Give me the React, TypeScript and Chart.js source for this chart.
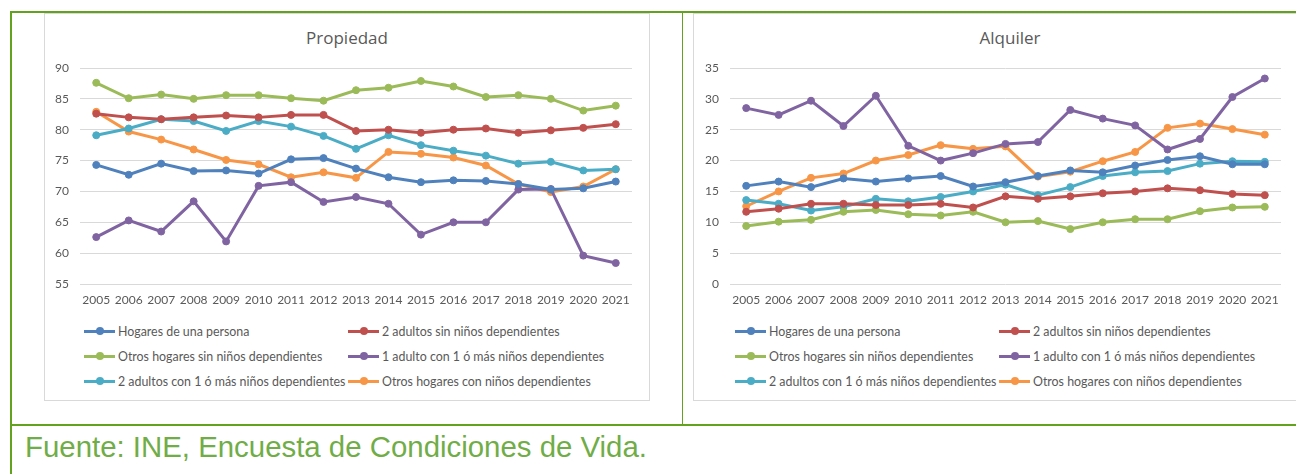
import React, { useEffect, useRef } from 'react';
import Chart from 'chart.js/auto';

const years = ['2005','2006','2007','2008','2009','2010','2011','2012','2013','2014','2015','2016','2017','2018','2019','2020','2021'];

const seriesLabels = [
  'Hogares de una persona',
  '2 adultos sin niños dependientes',
  'Otros hogares sin niños dependientes',
  '1 adulto con 1 ó más niños dependientes',
  '2 adultos con 1 ó más niños dependientes',
  'Otros hogares con niños dependientes',
];
const seriesColors = ['#4f81bd', '#c0504d', '#9bbb59', '#8064a2', '#4bacc6', '#f79646'];

// Propiedad
const propUnaPersona = [74.3, 72.7, 74.5, 73.3, 73.4, 72.9, 75.2, 75.4, 73.7, 72.3, 71.5, 71.8, 71.7, 71.2, 70.3, 70.5, 71.6];
const propDosSinNinos = [82.6, 82.0, 81.7, 82.0, 82.3, 82.0, 82.4, 82.4, 79.8, 80.0, 79.5, 80.0, 80.2, 79.5, 79.9, 80.3, 80.9];
const propOtrosSinNinos = [87.6, 85.1, 85.7, 85.0, 85.6, 85.6, 85.1, 84.7, 86.4, 86.8, 87.9, 87.0, 85.3, 85.6, 85.0, 83.1, 83.9];
const propUnAdultoNinos = [62.6, 65.3, 63.5, 68.4, 61.9, 70.9, 71.5, 68.3, 69.1, 68.0, 63.0, 65.0, 65.0, 70.3, 70.4, 59.6, 58.4];
const propDosConNinos = [79.1, 80.2, 81.7, 81.4, 79.8, 81.4, 80.5, 79.0, 76.9, 79.1, 77.5, 76.6, 75.8, 74.5, 74.8, 73.4, 73.6];
const propOtrosConNinos = [82.9, 79.7, 78.4, 76.8, 75.1, 74.4, 72.3, 73.1, 72.2, 76.4, 76.1, 75.5, 74.2, 71.2, 69.9, 70.8, 73.6];

// Alquiler
const alqUnaPersona = [15.9, 16.6, 15.7, 17.1, 16.6, 17.1, 17.5, 15.8, 16.5, 17.5, 18.4, 18.1, 19.2, 20.1, 20.7, 19.4, 19.4];
const alqDosSinNinos = [11.7, 12.2, 13.0, 13.0, 12.8, 12.8, 13.0, 12.4, 14.2, 13.8, 14.2, 14.7, 15.0, 15.5, 15.2, 14.6, 14.4];
const alqOtrosSinNinos = [9.4, 10.1, 10.4, 11.7, 12.0, 11.3, 11.1, 11.7, 10.0, 10.2, 8.9, 10.0, 10.5, 10.5, 11.8, 12.4, 12.5];
const alqUnAdultoNinos = [28.5, 27.4, 29.7, 25.6, 30.5, 22.4, 20.0, 21.2, 22.7, 23.0, 28.2, 26.8, 25.7, 21.8, 23.5, 30.3, 33.3];
const alqDosConNinos = [13.6, 13.0, 11.9, 12.5, 13.8, 13.4, 14.1, 15.0, 16.1, 14.4, 15.7, 17.5, 18.1, 18.3, 19.5, 19.9, 19.8];
const alqOtrosConNinos = [12.6, 15.0, 17.2, 17.9, 20.0, 20.9, 22.5, 21.9, 22.3, 17.4, 18.2, 19.9, 21.4, 25.3, 26.0, 25.1, 24.2];

const propSeries = [propUnaPersona, propDosSinNinos, propOtrosSinNinos, propUnAdultoNinos, propDosConNinos, propOtrosConNinos];
const alqSeries = [alqUnaPersona, alqDosSinNinos, alqOtrosSinNinos, alqUnAdultoNinos, alqDosConNinos, alqOtrosConNinos];

const TEXT = '#595959';
const GRID = '#d9d9d9';
const FONT = "Lato, 'Open Sans', sans-serif";
const TITLE_FONT = "'Open Sans', Lato, sans-serif";
const GREEN = '#62a21e';

type ChartBoxProps = {
  title: string;
  series: number[][];
  yMin: number;
  yMax: number;
  boxLeft: number;
  boxWidth: number;
  yAxisWidth: number;
  padRight: number;
  legendCol1: number;
  legendCol2: number;
};

function ChartBox(p: ChartBoxProps) {
  const ref = useRef<HTMLCanvasElement | null>(null);
  const canvasH = 300;
  useEffect(() => {
    if (!ref.current) return;
    const chart = new Chart(ref.current, {
      type: 'line',
      data: {
        labels: years,
        datasets: p.series.map((d, i) => ({
          label: seriesLabels[i],
          data: d,
          borderColor: seriesColors[i],
          backgroundColor: seriesColors[i],
          pointBackgroundColor: seriesColors[i],
          pointBorderColor: seriesColors[i],
          borderWidth: 3,
          pointRadius: 3.5,
          pointBorderWidth: 1,
          tension: 0,
        })),
      },
      options: {
        animation: false,
        responsive: false,
        maintainAspectRatio: false,
        layout: { padding: { left: 0, right: p.padRight, top: 55, bottom: 0 } },
        plugins: { legend: { display: false }, title: { display: false }, tooltip: { enabled: false } },
        scales: {
          x: {
            offset: true,
            grid: { display: false, drawTicks: false },
            border: { display: false },
            ticks: { color: TEXT, font: { family: FONT, size: 12 }, padding: 9, maxRotation: 0, autoSkip: false },
            afterFit: (s: any) => { s.height = 29; },
          },
          y: {
            min: p.yMin,
            max: p.yMax,
            grid: { color: GRID, lineWidth: 1, drawTicks: false },
            border: { display: false },
            ticks: { stepSize: 5, color: TEXT, font: { family: FONT, size: 12 }, padding: 11 },
            afterFit: (s: any) => { s.width = p.yAxisWidth; },
          },
        },
      },
    });
    return () => chart.destroy();
  }, []);

  const rows = [0, 1, 2];
  const rowY = [331, 356, 381];
  return (
    <>
      <div style={{ position: 'absolute', left: p.boxLeft, top: 13, width: p.boxWidth - 2, height: 386, border: `1px solid ${GRID}`, background: '#fff' }} />
      <div style={{ position: 'absolute', left: p.boxLeft, top: 26, width: p.boxWidth, textAlign: 'center', font: `17px ${TITLE_FONT}`, color: TEXT, lineHeight: '24px' }}>{p.title}</div>
      <canvas ref={ref} width={p.boxWidth} height={canvasH} style={{ position: 'absolute', left: p.boxLeft, top: 13, width: p.boxWidth, height: canvasH }} />
      {rows.map((r) => [0, 1].map((c) => {
        const idx = r * 2 + c;
        const x = c === 0 ? p.legendCol1 : p.legendCol2;
        return (
          <div key={idx} style={{ position: 'absolute', left: x, top: rowY[r] - 9, height: 18, display: 'flex', alignItems: 'center', whiteSpace: 'nowrap' }}>
            <div style={{ position: 'relative', width: 31, height: 18 }}>
              <div style={{ position: 'absolute', left: 0, top: 7.5, width: 31, height: 3, background: seriesColors[idx] }} />
              <div style={{ position: 'absolute', left: 11.5, top: 5, width: 8, height: 8, borderRadius: 4, background: seriesColors[idx] }} />
            </div>
            <span style={{ font: `12.4px ${FONT}`, color: TEXT, marginLeft: 3 }}>{seriesLabels[idx]}</span>
          </div>
        );
      }))}
    </>
  );
}

export default function App() {
  return (
    <div style={{ position: 'fixed', left: 0, top: 0, width: 1296, height: 474, overflow: 'hidden', background: '#fff' }}>
      {/* table borders */}
      <div style={{ position: 'absolute', left: 10, top: 11, width: 1300, height: 2, background: GREEN }} />
      <div style={{ position: 'absolute', left: 10, top: 11, width: 2, height: 470, background: GREEN }} />
      <div style={{ position: 'absolute', left: 682, top: 11, width: 1, height: 414, background: GREEN }} />
      <div style={{ position: 'absolute', left: 10, top: 424, width: 1300, height: 2, background: GREEN }} />
      <ChartBox title="Propiedad" series={propSeries} yMin={55} yMax={90} boxLeft={44} boxWidth={606} yAxisWidth={36} padRight={18} legendCol1={84} legendCol2={348} />
      <ChartBox title="Alquiler" series={alqSeries} yMin={0} yMax={35} boxLeft={693} boxWidth={634} yAxisWidth={37} padRight={46} legendCol1={735} legendCol2={999} />
      <div style={{ position: 'absolute', left: 25, top: 432, font: `29.4px 'Liberation Sans', Arial, sans-serif`, lineHeight: '29px', color: '#70ad47', whiteSpace: 'nowrap' }}>
        Fuente: INE, Encuesta de Condiciones de Vida.
      </div>
    </div>
  );
}
